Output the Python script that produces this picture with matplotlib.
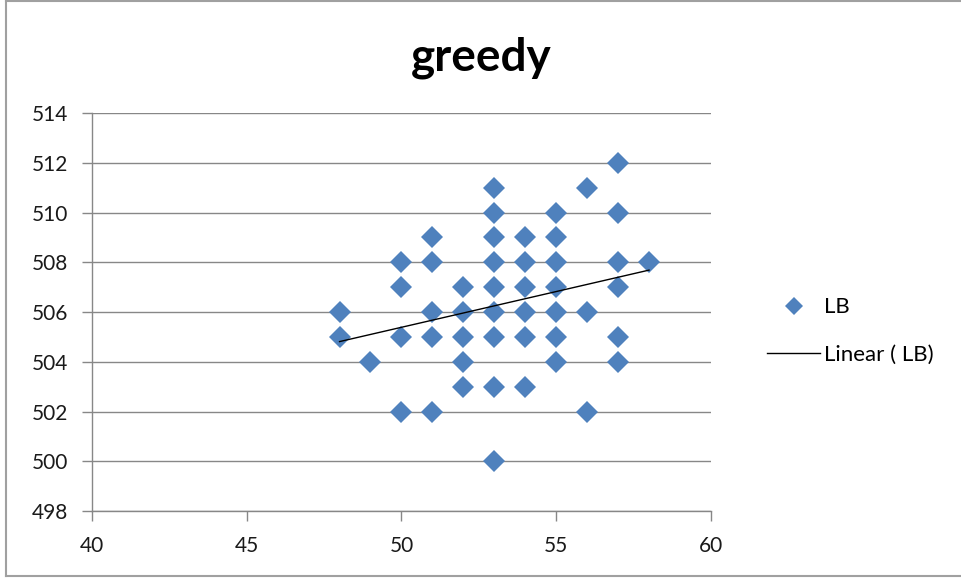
import numpy as np
import matplotlib
matplotlib.use("Agg")
import matplotlib.pyplot as plt
from matplotlib.lines import Line2D

# LB observations for the greedy run (x, y)
x_vals = [48, 48,
          49,
          50, 50, 50, 50,
          51, 51, 51, 51, 51,
          52, 52, 52, 52, 52,
          53, 53, 53, 53, 53, 53, 53, 53, 53,
          54, 54, 54, 54, 54, 54,
          55, 55, 55, 55, 55, 55, 55,
          56, 56, 56,
          57, 57, 57, 57, 57, 57,
          58]
y_vals = [506, 505,
          504,
          508, 507, 505, 502,
          509, 508, 506, 505, 502,
          507, 506, 505, 504, 503,
          511, 510, 509, 508, 507, 506, 505, 503, 500,
          509, 508, 507, 506, 505, 503,
          510, 509, 508, 507, 506, 505, 504,
          511, 506, 502,
          512, 510, 508, 507, 505, 504,
          508]
x_ticks = [40, 45, 50, 55, 60]
y_ticks = [498, 500, 502, 504, 506, 508, 510, 512, 514]

plt.rcParams['font.family'] = ['Lato', 'DejaVu Sans']

fig = plt.figure(figsize=(9.62, 5.78), dpi=100)
ax = fig.add_axes([0.0956, 0.1159, 0.739 - 0.0956, 0.8045 - 0.1159])

blue = '#4F81BD'
grid_c = '#878787'

x = np.array(x_vals, dtype=float)
y = np.array(y_vals, dtype=float)
ax.plot(x, y, linestyle='none', marker='D', markersize=11.5,
        color=blue, markeredgewidth=0, zorder=3)

# least-squares trend line across the data range
slope, intercept = np.polyfit(x, y, 1)
xs = np.array([x.min(), x.max()])
ax.plot(xs, slope * xs + intercept, color='black', linewidth=1.0, zorder=4)

ax.set_xlim(x_ticks[0], x_ticks[-1])
ax.set_ylim(y_ticks[0], y_ticks[-1])
ax.set_xticks(x_ticks)
ax.set_yticks(y_ticks)
ax.yaxis.grid(True, color=grid_c, linewidth=1.0)
ax.set_axisbelow(True)
for s in ('top', 'right'):
    ax.spines[s].set_visible(False)
for s in ('left', 'bottom'):
    ax.spines[s].set_color(grid_c)
    ax.spines[s].set_linewidth(1.0)
ax.tick_params(axis='both', colors=grid_c, labelcolor='#1a1a1a',
               labelsize=15, length=7, width=1.0)
ax.tick_params(axis='x', pad=11)
ax.tick_params(axis='y', pad=10)

fig.text(0.5, 0.90, 'greedy', ha='center', va='center',
         fontsize=33, fontweight='bold', color='black')

handles = [Line2D([], [], linestyle='none', marker='D', markersize=9,
                  color=blue, markeredgewidth=0),
           Line2D([], [], color='black', linewidth=1.0)]
leg = fig.legend(handles, ['LB', 'Linear ( LB)'], loc='center left',
                 bbox_to_anchor=(0.7766, 0.4273), frameon=False,
                 fontsize=16, handlelength=2.4, handletextpad=0.15,
                 labelspacing=1.23)

# chart border (top, left, bottom)
border = '#a0a0a0'
fig.add_artist(Line2D([0.006, 1.0], [0.998, 0.998], transform=fig.transFigure,
                      color=border, linewidth=1.5))
fig.add_artist(Line2D([0.006, 0.006], [0.003, 0.998], transform=fig.transFigure,
                      color=border, linewidth=1.5))
fig.add_artist(Line2D([0.006, 1.0], [0.003, 0.003], transform=fig.transFigure,
                      color=border, linewidth=1.5))

fig.savefig('out.png', dpi=100)
